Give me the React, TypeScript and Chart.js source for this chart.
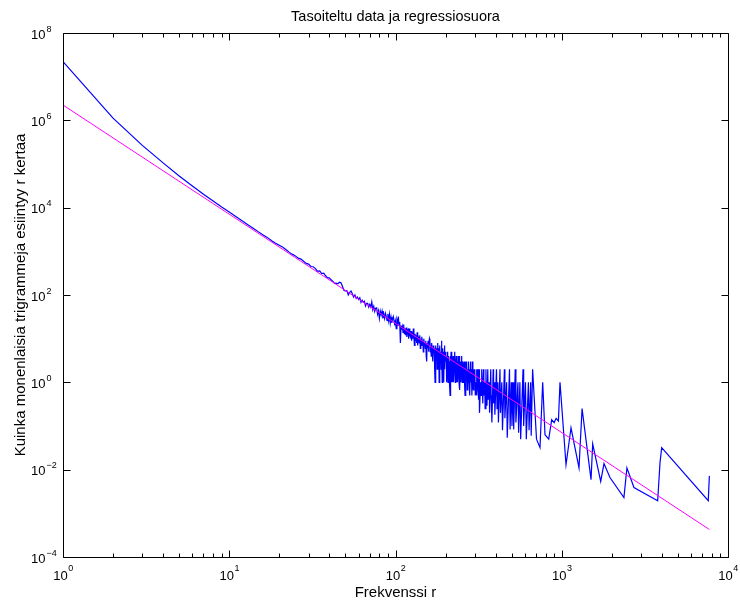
import React, { useEffect, useRef } from "react";
import { Chart, registerables } from "chart.js";

Chart.register(...registerables);

const TITLE = "Tasoiteltu data ja regressiosuora";
const X_LABEL = "Frekvenssi r";
const Y_LABEL = "Kuinka monenlaisia trigrammeja esiintyy r kertaa";

const X_DECADES = [0, 1, 2, 3, 4];
const Y_LABEL_DECADES = [8, 6, 4, 2, 0, -2, -4];

// smoothed counts Z_r: [r, Z_r]
const lowFreq: number[][] = [
  [1, 2.2e7], [2, 1.12e6], [3, 2.67e5], [4, 1.06e5], [5, 5.29e4], [6, 3.12e4], [7, 2.03e4], [8, 1.42e4],
  [9, 1.034e4], [10, 7950], [11, 6190], [12, 4920], [13, 4030], [14, 3350], [15, 2790], [16, 2370],
  [17, 2060], [18, 1750], [19, 1525], [20, 1373], [21, 1243], [22, 1082], [23, 946], [24, 851],
  [25, 786], [26, 697], [27, 663], [28, 592], [29, 530], [30, 510], [31, 449], [32, 444], [33, 402],
  [34, 348], [35, 355], [36, 309], [37, 316], [38, 276], [39, 247], [40, 248], [41, 223], [42, 205],
  [43, 185], [44, 187], [45, 181], [46, 196], [47, 190], [48, 157], [49, 127], [50, 124],
];

const midFreq: number[][] = [
  [51, 126], [52, 100], [53, 115], [54, 123], [55, 107], [56, 89], [57, 100], [58, 84], [59, 90],
  [60, 79], [61, 87], [62, 68], [63, 76], [64, 68], [65, 72], [66, 56], [67, 64], [68, 64], [69, 53],
  [70, 61], [71, 53], [72, 70], [73, 46], [74, 55], [75, 42], [76, 50], [77, 51], [78, 36], [79, 44],
  [80, 29], [81, 43], [82, 35], [83, 43], [84, 29], [85, 37], [86, 29], [87, 38], [88, 32], [89, 26],
  [90, 37], [91, 26], [92, 36], [93, 23], [94, 31], [95, 23], [96, 28], [97, 32], [98, 26], [99, 20],
  [100, 25], [101, 17], [102, 27], [103, 23], [104, 32], [105, 20], [106, 24], [107, 8],
  [108, 20], [109, 16], [110, 19], [111, 14], [112, 21], [113, 13], [114, 17], [115, 12], [116, 18],
  [117, 11], [118, 15], [119, 16], [120, 10], [121, 17], [122, 12], [123, 11], [124, 15], [125, 9],
  [126, 14], [127, 10], [128, 17], [129, 11], [130, 7], [131, 13], [132, 9], [133, 12], [134, 8],
  [135, 14], [136, 7], [137, 11], [138, 10], [139, 8], [140, 12], [141, 6], [142, 10], [143, 7],
  [144, 11], [145, 8], [146, 9], [147, 5], [148, 10], [149, 7], [150, 8], [151, 6], [152, 9],
  [153, 4], [154, 3], [155, 8], [156, 6], [157, 9], [158, 5], [159, 7], [160, 10], [161, 9],
  [162, 5], [163, 7], [164, 4], [165, 8], [166, 6], [167, 3], [168, 3], [169, 7], [170, 5],
  [171, 6], [172, 2], [173, 1], [174, 5], [175, 7], [176, 4], [177, 6], [178, 2], [179, 5],
  [180, 8], [181, 3], [182, 6], [183, 1], [184, 4], [185, 7], [186, 3], [187, 5], [188, 2],
  [189, 9], [190, 4], [191, 1], [192, 6], [193, 3], [194, 5], [195, 1], [196, 4], [197, 7],
  [198, 2], [199, 5], [200, 3],
];

const highFreq: number[][] = [
  [202, 4], [203, 1], [205, 5], [206, 2], [207, 1], [209, 4], [210, 3], [211, 1], [213, 0.5],
  [214, 4], [215, 2], [216, 5], [218, 1], [219, 3], [220, 1], [222, 4], [223, 2], [224, 1],
  [226, 3], [227, 5], [229, 1], [230, 2], [232, 4], [233, 1], [235, 3], [236, 1], [238, 4],
  [239, 2], [241, 1], [242, 4], [244, 0.67], [246, 3], [247, 1], [249, 2], [250, 4], [252, 1],
  [254, 3], [255, 1], [257, 2], [259, 3], [260, 1], [262, 0.5], [264, 3], [265, 1], [267, 2],
  [268, 3], [270, 0.67], [272, 2], [273, 1], [275, 3], [277, 1], [279, 2], [280, 0.5], [283, 3],
  [284, 1], [286, 2], [288, 0.5], [291, 3], [292, 1], [294, 0.67], [296, 2], [298, 1], [300, 2],
  [302, 0.5], [305, 1], [307, 2], [309, 0.5], [312, 2], [313, 1], [316, 0.4], [318, 2], [320, 0.2],
  [325, 1], [327, 0.5], [330, 2], [332, 1], [335, 0.33], [338, 2], [340, 0.5], [344, 1], [346, 0.25],
  [350, 2], [352, 0.67], [355, 0.29], [359, 2], [361, 0.4], [366, 1], [368, 0.2], [374, 2],
  [376, 0.5], [380, 0.12], [387, 2], [389, 0.33], [394, 1], [396, 0.18], [405, 2], [408, 0.25],
  [413, 1], [416, 0.12], [425, 2], [428, 0.2], [436, 1], [440, 0.08], [452, 2], [455, 0.15],
  [466, 1], [470, 0.054], [485, 2], [489, 0.083], [497, 1], [502, 0.1], [510, 1], [514, 0.083],
  [525, 2], [530, 0.12], [545, 1], [550, 0.07], [560, 1], [566, 0.05], [585, 2], [590, 0.1],
  [605, 1], [612, 0.05], [630, 1], [636, 0.08], [650, 1], [655, 0.06], [668, 2],
];

const tailFreq: number[][] = [
  [705, 0.05], [740, 0.032], [768, 1], [793, 0.063], [835, 0.05], [870, 0.14], [900, 0.12],
  [925, 0.15], [955, 0.13], [976, 1], [1061, 0.013], [1137, 0.091], [1270, 0.011], [1325, 0.25],
  [1500, 0.0059], [1535, 0.039], [1715, 0.0054], [1795, 0.0138], [1950, 0.0066], [2366, 0.0023],
  [2466, 0.011], [2718, 0.0039], [3776, 0.00195], [3900, 0.0145], [3991, 0.032], [7608, 0.00195],
  [7725, 0.0072],
];

// regression line end points
const regFreq = [1, 7725];
const regCount = [2.24e6, 4.27e-4];

const FONT = '"Liberation Sans", Arial, Helvetica, sans-serif';

function drawPow(ctx: CanvasRenderingContext2D, exp: number, x: number, y: number, mode: "center" | "y") {
  const base = "10";
  const ex = exp < 0 ? "\u2212" + Math.abs(exp) : String(exp);
  ctx.font = `13px ${FONT}`;
  const wb = ctx.measureText(base).width;
  ctx.font = `9px ${FONT}`;
  const we = ctx.measureText(ex).width;
  ctx.textAlign = "left";
  ctx.textBaseline = "alphabetic";
  if (mode === "center") {
    const start = x - (wb + we) / 2;
    ctx.font = `13px ${FONT}`;
    ctx.fillText(base, start, y);
    ctx.font = `9px ${FONT}`;
    ctx.fillText(ex, start + wb + 0.5, y - 9);
  } else {
    ctx.font = `13px ${FONT}`;
    ctx.fillText(base, x - wb, y + 5.5);
    ctx.font = `9px ${FONT}`;
    ctx.fillText(ex, x + 1, y - 1.5);
  }
}

const axesPlugin = {
  id: "matlabAxes",
  afterDraw(chart: any) {
    const { ctx, chartArea: a, scales } = chart;
    const xs = scales.x;
    const ys = scales.y;
    const L = Math.round(a.left) + 0.5;
    const R = Math.round(a.right) + 0.5;
    const T = Math.round(a.top) + 0.5;
    const B = Math.round(a.bottom) + 0.5;
    ctx.save();
    ctx.strokeStyle = "#000";
    ctx.lineWidth = 1;
    ctx.beginPath();
    ctx.rect(L, T, R - L, B - T);
    ctx.stroke();

    ctx.beginPath();
    for (let e = 0; e <= 4; e++) {
      for (let k = 1; k <= 9; k++) {
        const v = k * Math.pow(10, e);
        if (v > 1e4) break;
        const px = Math.round(xs.getPixelForValue(v)) + 0.5;
        const len = k === 1 ? 7 : 4;
        ctx.moveTo(px, B);
        ctx.lineTo(px, B - len);
        ctx.moveTo(px, T);
        ctx.lineTo(px, T + len);
      }
    }
    for (const e of Y_LABEL_DECADES) {
      const py = Math.round(ys.getPixelForValue(Math.pow(10, e))) + 0.5;
      ctx.moveTo(L, py);
      ctx.lineTo(L + 7, py);
      ctx.moveTo(R, py);
      ctx.lineTo(R - 7, py);
    }
    ctx.stroke();

    ctx.fillStyle = "#000";
    for (const e of X_DECADES) {
      const px = xs.getPixelForValue(Math.pow(10, e));
      drawPow(ctx, e, px, 580, "center");
    }
    for (const e of Y_LABEL_DECADES) {
      const py = ys.getPixelForValue(Math.pow(10, e));
      drawPow(ctx, e, 45.5, py, "y");
    }

    ctx.textBaseline = "alphabetic";
    ctx.textAlign = "center";
    ctx.font = `14.5px ${FONT}`;
    ctx.fillText(TITLE, (a.left + a.right) / 2, 20.5);
    ctx.font = `15px ${FONT}`;
    ctx.fillText(X_LABEL, (a.left + a.right) / 2, 597);
    ctx.translate(25, (a.top + a.bottom) / 2);
    ctx.rotate(-Math.PI / 2);
    ctx.fillText(Y_LABEL, 0, 0);
    ctx.restore();
  },
};

export default function App() {
  const ref = useRef<HTMLCanvasElement>(null);
  useEffect(() => {
    const observed = [...lowFreq, ...midFreq, ...highFreq, ...tailFreq].map(([x, y]) => ({ x, y }));
    const regression = regFreq.map((x, i) => ({ x, y: regCount[i] }));
    const chart = new Chart(ref.current as HTMLCanvasElement, {
      type: "scatter",
      data: {
        datasets: [
          {
            data: regression,
            borderColor: "#ff00ff",
            backgroundColor: "#ff00ff",
            borderWidth: 1,
            showLine: true,
            pointRadius: 0,
            fill: false,
          },
          {
            data: observed,
            borderColor: "#0000ff",
            backgroundColor: "#0000ff",
            borderWidth: 1.2,
            showLine: true,
            pointRadius: 0,
            fill: false,
          },
        ],
      },
      options: {
        responsive: false,
        animation: false,
        devicePixelRatio: 1,
        events: [],
        layout: { padding: { left: 63, right: 12, top: 33, bottom: 45 } },
        scales: {
          x: { type: "logarithmic", min: 1, max: 1e4, display: false },
          y: { type: "logarithmic", min: 1e-4, max: 1e8, display: false },
        },
        plugins: { legend: { display: false }, tooltip: { enabled: false }, title: { display: false } },
      },
      plugins: [axesPlugin],
    } as any);
    return () => chart.destroy();
  }, []);
  return (
    <div style={{ position: "fixed", left: 0, top: 0, width: 740, height: 602, background: "#fff" }}>
      <canvas ref={ref} width={740} height={602} style={{ display: "block", width: 740, height: 602 }} />
    </div>
  );
}
